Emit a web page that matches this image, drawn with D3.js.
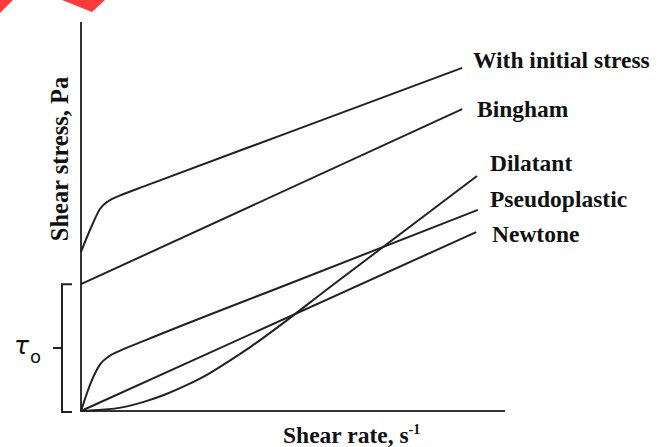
<!DOCTYPE html>
<html lang="en">
<head>
    <meta charset="UTF-8">
    <title>Flow curves</title>
    <script src="https://d3js.org/d3.v7.min.js"></script>
    <style>
        body { margin: 0; background: #fff; }
        text { font-family: "Liberation Serif", "Times New Roman", serif; font-weight: bold; fill: #111; }
    </style>
</head>
<body>
    <script>
        // curve names (labels at the right end)
        var names = ["With initial stress", "Bingham", "Dilatant", "Pseudoplastic", "Newtone"];

        // shear rate / shear stress points, arbitrary units 0..100
        var withStress = [[0, 40.9], [2.5, 47.5], [4.5, 52.0], [6.5, 54.0], [9, 55.3], [15, 57.8], [50, 72.0], [89.9, 88.2]];
        var bingham = [[0, 32.6], [89.9, 77.6]];
        var dilatant = [[0, 0], [5, 0.3], [10, 1.0], [15, 2.4], [20, 4.3], [25, 6.7], [30, 9.5], [35, 12.9], [40, 16.5], [60, 32.9], [93.4, 60.4]];
        var pseudo = [[0, 0], [2.4, 7.5], [4.5, 12.0], [6.5, 14.0], [9, 15.4], [15, 18.1], [50, 33.1], [93.6, 51.7]];
        var newtone = [[0, 0], [93.2, 46.0]];

        var series = [withStress, bingham, dilatant, pseudo, newtone];

        var width = 665, height = 447;

        var svg = d3.select("body").append("svg")
            .attr("width", width)
            .attr("height", height);

        var x = d3.scaleLinear().domain([0, 100]).range([81, 505]);
        var y = d3.scaleLinear().domain([0, 100]).range([411, 22]);

        // red corner decoration
        svg.append("polygon").attr("points", "0,0 13,0 0,13").attr("fill", "#ff3a3a");
        svg.append("polygon").attr("points", "62,0 105,0 92,12").attr("fill", "#ff3a3a");

        // axes, no ticks
        svg.append("line")
            .attr("x1", x(0)).attr("x2", x(0))
            .attr("y1", y(0)).attr("y2", y(100))
            .attr("stroke", "#333").attr("stroke-width", 2);
        svg.append("line")
            .attr("x1", x(0) - 1).attr("x2", x(100))
            .attr("y1", y(0)).attr("y2", y(0))
            .attr("stroke", "#333").attr("stroke-width", 2.2);

        // curves
        var line = d3.line()
            .x(function(d) { return x(d[0]); })
            .y(function(d) { return y(d[1]); })
            .curve(d3.curveMonotoneX);

        svg.append("g")
            .selectAll("path")
            .data(series)
            .enter().append("path")
            .attr("d", line)
            .attr("fill", "none")
            .attr("stroke", "#222")
            .attr("stroke-width", 2);

        // curve labels
        var labelPos = [[473, 68], [477, 117], [490, 171], [490, 207], [492, 242]];
        svg.append("g")
            .selectAll("text")
            .data(names)
            .enter().append("text")
            .attr("x", function(d, i) { return labelPos[i][0]; })
            .attr("y", function(d, i) { return labelPos[i][1]; })
            .attr("font-size", 23.5)
            .text(function(d) { return d; });

        // brace for yield stress tau0 (from 0 to Bingham intercept)
        var bTop = y(bingham[0][1]), bBot = y(0) + 1;
        var bMid = (bTop + bBot) / 2;
        svg.append("path")
            .attr("d", "M72," + bTop + "H62V" + bBot + "H72M62," + bMid + "H53")
            .attr("fill", "none")
            .attr("stroke", "#222")
            .attr("stroke-width", 2);

        var tau = svg.append("text")
            .attr("x", 14)
            .attr("y", 354)
            .style("font-family", "'DejaVu Sans', sans-serif")
            .style("font-weight", "normal")
            .attr("font-size", 25);
        tau.append("tspan")
            .style("font-style", "italic")
            .text("τ");
        tau.append("tspan")
            .attr("dy", 9)
            .attr("dx", 1)
            .attr("font-size", 18)
            .text("o");

        // axis titles
        var xt = svg.append("text")
            .attr("x", 283)
            .attr("y", 443)
            .attr("font-size", 23.5);
        xt.append("tspan").text("Shear rate, s");
        xt.append("tspan").attr("dy", -9).attr("font-size", 14).text("-1");

        svg.append("text")
            .attr("transform", "translate(68,159) rotate(-90)")
            .attr("text-anchor", "middle")
            .attr("font-size", 24.5)
            .text("Shear stress, Pa");
    </script>
</body>
</html>
